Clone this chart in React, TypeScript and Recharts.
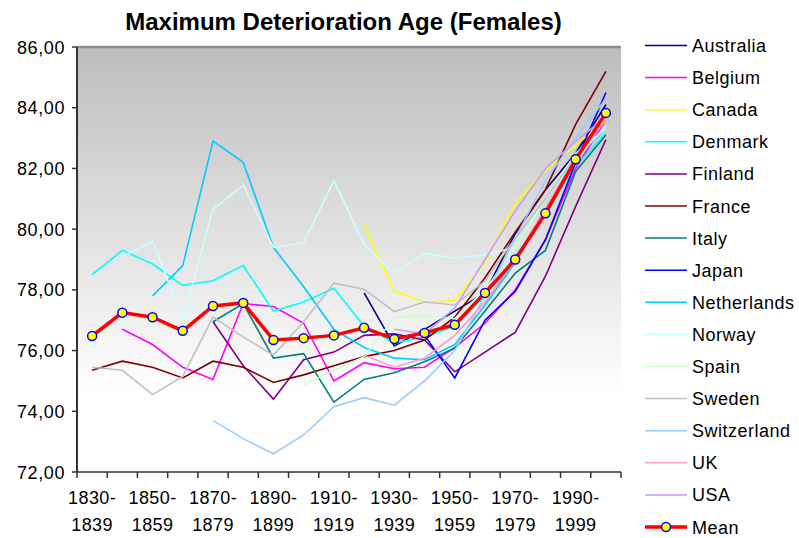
import React from 'react';
import { LineChart, Line, XAxis, YAxis, CartesianGrid, ReferenceLine } from 'recharts';

const CATEGORIES = [
  '1830-1839', '1840-1849', '1850-1859', '1860-1869', '1870-1879', '1880-1889',
  '1890-1899', '1900-1909', '1910-1919', '1920-1929', '1930-1939', '1940-1949',
  '1950-1959', '1960-1969', '1970-1979', '1980-1989', '1990-1999', '2000-2009',
];

const Y_TICKS = [72, 74, 76, 78, 80, 82, 84, 86];

const N = null;
const australia = [N, N, N, N, N, N, N, N, N, 77.9, 76.15, 76.7, 77.3, 77.9, 79.85, 81.3, 82.5, 84.1];
const belgium = [N, 76.7, 76.2, 75.45, 75.05, 77.55, 77.45, 76.9, 75.0, 75.6, 75.4, 75.45, 76.1, 76.9, 78.0, 79.65, 82.0, 83.6];
const canada = [N, N, N, N, N, N, N, N, N, 80.15, 77.95, 77.6, 77.65, 78.9, 80.85, 81.95, 82.75, 83.6];
const denmark = [78.5, 79.3, 78.85, 78.15, 78.3, 78.8, 77.3, 77.6, 78.05, 76.8, 76.25, 76.45, 76.8, 77.8, 79.1, 80.5, 82.1, 83.15];
const finland = [N, N, N, N, 76.95, 75.5, 74.4, 75.7, 75.95, 76.5, 76.55, 76.35, 75.3, 75.95, 76.6, 78.45, 80.75, 82.95];
const france = [75.35, 75.65, 75.45, 75.1, 75.65, 75.45, 74.95, 75.2, 75.5, 75.8, 76.0, 76.35, 77.1, 78.4, 79.9, 81.3, 83.45, 85.2];
const italy = [N, N, N, N, 76.95, 77.55, 75.75, 75.9, 74.3, 75.05, 75.27, 75.63, 76.08, 77.3, 78.55, 79.3, 81.9, 83.1];
const japan = [N, N, N, N, N, N, N, N, N, N, N, 76.5, 75.1, 77.0, 77.95, 79.65, 82.2, 84.5];
const netherlands = [N, N, 77.8, 78.8, 82.9, 82.2, 79.4, 78.1, 76.7, 76.1, 75.75, 75.7, 76.2, 77.5, 78.9, 80.6, 82.4, 83.3];
const norway = [N, 79.1, 79.6, 77.05, 80.65, 81.45, 79.4, 79.55, 81.6, 79.5, 78.55, 79.2, 79.05, 79.15, 79.4, 81.0, 82.5, 83.3];
const spain = [N, N, N, N, N, N, N, 74.87, 75.35, 75.8, 77.08, 77.15, 77.05, 78.0, 79.4, 81.0, 82.3, 83.4];
const sweden = [75.45, 75.35, 74.55, 75.15, 77.1, 76.45, 75.85, 76.95, 78.22, 78.02, 77.28, 77.6, 77.5, 78.3, 79.7, 81.0, 82.4, 83.6];
const switzerland = [N, N, N, N, 73.7, 73.1, 72.6, 73.22, 74.15, 74.45, 74.2, 75.0, 76.0, 77.8, 79.7, 81.6, 83.0, 84.3];
const uk = [N, N, N, N, N, N, N, N, N, 75.85, 75.45, 75.75, 76.5, 77.6, 79.0, 80.7, 82.3, 83.6];
const usa = [N, N, N, N, N, N, N, N, N, N, 76.7, 76.55, 77.4, 79.0, 80.6, 82.0, 82.9, 83.7];
const mean = [76.48, 77.25, 77.1, 76.65, 77.47, 77.57, 76.35, 76.41, 76.5, 76.75, 76.38, 76.58, 76.85, 77.9, 79.0, 80.52, 82.3, 83.83];

const SERIES = [
  { name: 'Australia', values: australia, color: '#000080' },
  { name: 'Belgium', values: belgium, color: '#FF00FF' },
  { name: 'Canada', values: canada, color: '#FFFF00' },
  { name: 'Denmark', values: denmark, color: '#00FFFF' },
  { name: 'Finland', values: finland, color: '#800080' },
  { name: 'France', values: france, color: '#800000' },
  { name: 'Italy', values: italy, color: '#008080' },
  { name: 'Japan', values: japan, color: '#0000FF' },
  { name: 'Netherlands', values: netherlands, color: '#00CCFF' },
  { name: 'Norway', values: norway, color: '#CCFFFF' },
  { name: 'Spain', values: spain, color: '#CCFFCC' },
  { name: 'Sweden', values: sweden, color: '#C0C0C0' },
  { name: 'Switzerland', values: switzerland, color: '#99CCFF' },
  { name: 'UK', values: uk, color: '#FF99CC' },
  { name: 'USA', values: usa, color: '#CC99FF' },
];

const data = CATEGORIES.map((cat, i) => {
  const row: Record<string, string | number | null> = { cat, Mean: mean[i] };
  SERIES.forEach((s) => { row[s.name] = s.values[i]; });
  return row;
});

const FONT = '"Liberation Sans", Arial, sans-serif';
// plot area 77..621 px wide, 18 categories
const STEP = 544 / 18;

function XTick(props: any) {
  const { x, y, payload, index } = props;
  const [a, b] = String(payload.value).split('-');
  const half = STEP / 2;
  return (
    <g>
      <line x1={x - half} x2={x - half} y1={y} y2={y + 6} stroke="#333" strokeWidth={1.5} />
      {index === CATEGORIES.length - 1 && (
        <line x1={x + half} x2={x + half} y1={y} y2={y + 6} stroke="#333" strokeWidth={1.5} />
      )}
      {index % 2 === 0 && (
        <text x={x} y={y} textAnchor="middle" fontSize={18} fontFamily={FONT} fill="#000" letterSpacing={0.4}>
          <tspan x={x} dy={31.5}>{a}-</tspan>
          <tspan x={x} dy={27}>{b}</tspan>
        </text>
      )}
    </g>
  );
}

function YTick(props: any) {
  const { x, y, payload } = props;
  return (
    <text x={x} y={y} dy={6.5} textAnchor="end" fontSize={18} fontFamily={FONT} fill="#000" letterSpacing={0.6}>
      {Number(payload.value).toFixed(2).replace('.', ',')}
    </text>
  );
}

function LegendBox() {
  const items = [...SERIES.map((s) => ({ name: s.name, color: s.color, mean: false })), { name: 'Mean', color: '#FF0000', mean: true }];
  return (
    <svg width={159} height={538} style={{ position: 'absolute', left: 640, top: 0 }}>
      {items.map((it, i) => {
        const cy = 45.5 + i * 32.1;
        return (
          <g key={it.name}>
            <line x1={5} x2={47} y1={cy} y2={cy} stroke={it.color} strokeWidth={it.mean ? 3.5 : 1.5} />
            {it.mean && <circle cx={26} cy={cy} r={4.5} fill="#FFFF00" stroke="#0000FF" strokeWidth={1.5} />}
            <text x={52} y={cy} dy={6.5} fontSize={18} fontFamily={FONT} fill="#000" letterSpacing={0.5}>
              {it.name}
            </text>
          </g>
        );
      })}
    </svg>
  );
}

export default function App() {
  return (
    <div style={{ position: 'absolute', left: 0, top: 0, width: 799, height: 538, background: '#fff', fontFamily: FONT }}>
      <div style={{ position: 'absolute', left: 0, top: 7, width: 687, textAlign: 'center', fontSize: 24, fontWeight: 'bold', lineHeight: '30px' }}>
        Maximum Deterioration Age (Females)
      </div>
      <LineChart width={799} height={538} data={data} margin={{ top: 47, right: 178, bottom: 0, left: 0 }}>
        <defs>
          <linearGradient id="plotBg" x1="0" y1="0" x2="0" y2="1">
            <stop offset="0%" stopColor="#BDBDBD" />
            <stop offset="82%" stopColor="#FFFFFF" />
            <stop offset="100%" stopColor="#FFFFFF" />
          </linearGradient>
        </defs>
        <CartesianGrid horizontal={false} vertical={false} fill="url(#plotBg)" />
        <XAxis
          dataKey="cat"
          interval={0}
          padding={{ left: STEP / 2, right: STEP / 2 }}
          height={66}
          tickSize={0}
          tickMargin={0}
          tickLine={false}
          axisLine={{ stroke: '#333', strokeWidth: 1.5 }}
          tick={<XTick />}
        />
        <YAxis
          domain={[72, 86]}
          ticks={Y_TICKS}
          width={77}
          tickSize={5}
          tickMargin={7}
          tickLine={{ stroke: '#333', strokeWidth: 1.5 }}
          axisLine={{ stroke: '#333', strokeWidth: 2 }}
          tick={<YTick />}
          allowDataOverflow
        />
        <YAxis
          yAxisId="right"
          orientation="right"
          domain={[72, 86]}
          width={0}
          tick={false}
          tickLine={false}
          axisLine={{ stroke: '#8C8C8C', strokeWidth: 2.5 }}
        />
        <ReferenceLine y={86} stroke="#8C8C8C" strokeWidth={2.5} />
        {SERIES.map((s) => (
          <Line
            key={s.name}
            dataKey={s.name}
            stroke={s.color}
            strokeWidth={1.6}
            dot={false}
            activeDot={false}
            connectNulls={false}
            isAnimationActive={false}
          />
        ))}
        <Line
          dataKey="Mean"
          stroke="#FF0000"
          strokeWidth={3.5}
          dot={{ r: 4.5, fill: '#FFFF00', stroke: '#0000FF', strokeWidth: 1.5 }}
          activeDot={false}
          isAnimationActive={false}
        />
      </LineChart>
      <LegendBox />
    </div>
  );
}
